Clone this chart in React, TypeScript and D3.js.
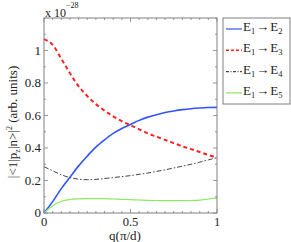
import React from "react";
import * as d3 from "d3";

const qValues = [0, 0.05, 0.1, 0.15, 0.2, 0.25, 0.3, 0.35, 0.4, 0.45, 0.5, 0.55, 0.6, 0.65, 0.7, 0.75, 0.8, 0.85, 0.9, 0.95, 1];
const e2 = [0, 0.07, 0.15, 0.22, 0.29, 0.35, 0.405, 0.45, 0.49, 0.52, 0.545, 0.57, 0.59, 0.605, 0.618, 0.628, 0.636, 0.642, 0.646, 0.649, 0.65];
const e3 = [1.07, 1.035, 0.95, 0.86, 0.78, 0.72, 0.67, 0.63, 0.595, 0.565, 0.54, 0.515, 0.49, 0.47, 0.45, 0.43, 0.41, 0.393, 0.375, 0.357, 0.34];
const e4 = [0.285, 0.26, 0.235, 0.218, 0.208, 0.205, 0.207, 0.212, 0.218, 0.224, 0.23, 0.238, 0.246, 0.256, 0.266, 0.277, 0.288, 0.3, 0.313, 0.327, 0.34];
const e5 = [0, 0.045, 0.072, 0.083, 0.087, 0.089, 0.089, 0.088, 0.086, 0.084, 0.082, 0.08, 0.078, 0.077, 0.076, 0.076, 0.076, 0.077, 0.079, 0.086, 0.093];
const xTicks = [0, 0.5, 1];
const xTickLabels = ["0", "0.5", "1"];
const yTicks = [0, 0.2, 0.4, 0.6, 0.8, 1];
const yTickLabels = ["0", "0.2", "0.4", "0.6", "0.8", "1"];
const seriesNames = ["2", "3", "4", "5"];

const W = 291, H = 242;
const L = 44, R = 217, T = 18, B = 213;
const font = "'Liberation Serif', 'DejaVu Serif', serif";

export default function App() {
  const x = d3.scaleLinear().domain([0, 1]).range([L, R]);
  const y = d3.scaleLinear().domain([0, 1.2]).range([B, T]);
  const line = (vals: number[]) =>
    d3.line<number>().x((_, i) => x(qValues[i])).y((v) => y(v)).curve(d3.curveMonotoneX)(vals) || "";

  const series = [
    { vals: e2, color: "#2f54ff", width: 1.6, dash: "", ldash: "" },
    { vals: e3, color: "#ff2222", width: 2, dash: "4,3", ldash: "3,2" },
    { vals: e4, color: "#444444", width: 1, dash: "5,2,1.5,2", ldash: "3,1.5,1,1.5" },
    { vals: e5, color: "#8ee860", width: 1.2, dash: "", ldash: "" },
  ];

  const xMinor = d3.range(0, 1.0001, 0.05);
  const yMinor = d3.range(0, 1.2001, 0.1);
  const axisColor = "#808080";

  return (
    <svg width={W} height={H} style={{ position: "absolute", left: 0, top: 0, background: "#fff" }} fontFamily={font}>
      <rect x={0} y={0} width={W} height={H} fill="#fff" />
      {xMinor.map((t, i) => {
        const major = xTicks.some((m) => Math.abs(m - t) < 1e-6);
        const len = major ? 4 : 2;
        return (
          <g key={"xm" + i} stroke={axisColor} strokeWidth={0.8}>
            <line x1={x(t)} x2={x(t)} y1={B} y2={B - len} />
            <line x1={x(t)} x2={x(t)} y1={T} y2={T + len} />
          </g>
        );
      })}
      {yMinor.map((t, i) => {
        const major = yTicks.some((m) => Math.abs(m - t) < 1e-6);
        const len = major ? 4 : 2;
        return (
          <g key={"ym" + i} stroke={axisColor} strokeWidth={0.8}>
            <line x1={L} x2={L + len} y1={y(t)} y2={y(t)} />
            <line x1={R} x2={R - len} y1={y(t)} y2={y(t)} />
          </g>
        );
      })}
      {series.map((s, i) => (
        <path key={i} d={line(s.vals)} fill="none" stroke={s.color} strokeWidth={s.width} strokeDasharray={s.dash} />
      ))}
      <rect x={L} y={T} width={R - L} height={B - T} fill="none" stroke={axisColor} strokeWidth={1} />
      {xTicks.map((t, i) => (
        <text key={"xt" + i} x={x(t)} y={B + 13} fontSize={12.5} textAnchor="middle" fill="#222">
          {xTickLabels[i]}
        </text>
      ))}
      {yTicks.map((t, i) => (
        <text key={"yt" + i} x={L - 3} y={y(t) + 4} fontSize={13} textAnchor="end" fill="#222">
          {yTickLabels[i]}
        </text>
      ))}
      <text x={45} y={17} fontSize={12} fill="#222">
        x 10
        <tspan dy={-9} fontSize={8}>−28</tspan>
      </text>
      <text x={125} y={240} fontSize={13} textAnchor="middle" fill="#222">q(π/d)</text>
      <text transform={`translate(17,122) rotate(-90)`} fontSize={13} textAnchor="middle" fill="#222">
        |&lt;1|p<tspan dy={3} fontSize={8}>z</tspan>
        <tspan dy={-3}>|n&gt;|</tspan>
        <tspan dy={-5} fontSize={8}>2</tspan>
        <tspan dy={5}> (arb. units)</tspan>
      </text>
      <rect x={223} y={18} width={67} height={86} fill="#fff" stroke={axisColor} strokeWidth={1} />
      {series.map((s, i) => {
        const ly = 29 + i * 21.3;
        return (
          <g key={"lg" + i}>
            <line x1={226} x2={242} y1={ly} y2={ly} stroke={s.color} strokeWidth={s.width === 2 ? 1.6 : 1.2} strokeDasharray={s.ldash} />
            <text x={243} y={ly + 2} fontSize={13} fill="#222">
              E<tspan dy={3} fontSize={8.5}>1</tspan>
              <tspan dy={-3} dx={1}>→</tspan>
              <tspan dx={1}>E</tspan>
              <tspan dy={3} fontSize={8.5}>{seriesNames[i]}</tspan>
            </text>
          </g>
        );
      })}
    </svg>
  );
}
